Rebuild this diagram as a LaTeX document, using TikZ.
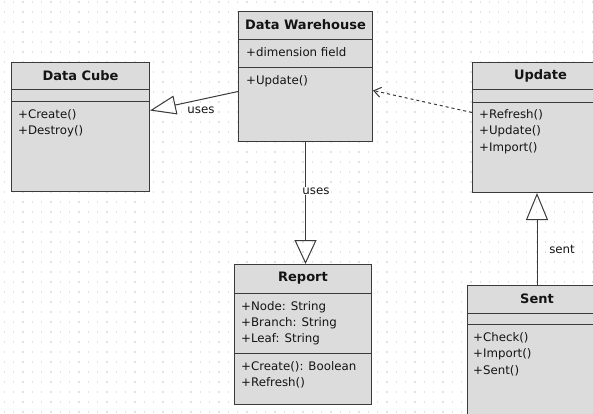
\documentclass[tikz,border=0pt]{standalone}
\usepackage{fontspec}
\setmainfont{DejaVu Sans}
\usetikzlibrary{arrows.meta,calc}
\definecolor{boxfill}{HTML}{DCDCDC}
\definecolor{boxline}{HTML}{3A3A3A}
\definecolor{ink}{HTML}{141414}
\definecolor{dotgrid}{HTML}{E2E2E2}

\begin{document}
\begin{tikzpicture}[x=1pt,y=-1pt,
  classbox/.style={draw=boxline, fill=boxfill, line width=1pt, inner sep=0pt, anchor=north west},
  sepline/.style={draw=boxline, line width=1pt},
  classtitle/.style={font=\fontsize{13}{14}\selectfont\bfseries, text=ink, inner sep=0pt},
  member/.style={font=\fontsize{11.8}{14}\selectfont, text=ink, inner sep=0pt, anchor=west,
    text height=8.5pt, text depth=2.5pt},
  connlabel/.style={font=\fontsize{11.8}{14}\selectfont, text=ink, inner sep=1pt},
  assoc/.style={draw=boxline, line width=1pt},
  depend/.style={draw=boxline, line width=1pt, dash pattern=on 3pt off 3pt},
]
\useasboundingbox (0,0) rectangle (593,413);
\clip (0,0) rectangle (593,413);
\fill[white] (0,0) rectangle (593,413);

% faint dot grid of the drawing canvas
\foreach \r in {0,...,41}
  \draw[dotgrid, line width=1.3pt, dash pattern=on 1.3pt off 8.03pt, dash phase=-3.7pt]
    (0,\r*10+2) -- (593,\r*10+2);

% ---- Data Cube ----
\node[classbox, minimum width=138pt, minimum height=129pt] (dc) at (11,62) {};
\draw[sepline] ($(dc.north west)+(0,27)$) -- ($(dc.north east)+(0,27)$);
\draw[sepline] ($(dc.north west)+(0,39)$) -- ($(dc.north east)+(0,39)$);
\node[classtitle] (dcT) at ($(dc.north)+(0,14)$) {Data Cube};
\node[member] (dcM1) at ($(dc.north west)+(7,53)$) {+Create()};
\node[member] (dcM2) at ($(dc.north west)+(7,69)$) {+Destroy()};

% ---- Data Warehouse ----
\node[classbox, minimum width=134pt, minimum height=130pt] (dw) at (238,11) {};
\draw[sepline] ($(dw.north west)+(0,28)$) -- ($(dw.north east)+(0,28)$);
\draw[sepline] ($(dw.north west)+(0,56)$) -- ($(dw.north east)+(0,56)$);
\node[classtitle] (dwT) at ($(dw.north)+(0,14)$) {Data Warehouse};
\node[member] (dwA1) at ($(dw.north west)+(8,42)$) {+dimension field};
\node[member] (dwM1) at ($(dw.north west)+(8,70)$) {+Update()};

% ---- Update ----
\node[classbox, minimum width=136pt, minimum height=130pt] (up) at (472,62) {};
\draw[sepline] ($(up.north west)+(0,27)$) -- ($(up.north east)+(0,27)$);
\draw[sepline] ($(up.north west)+(0,40)$) -- ($(up.north east)+(0,40)$);
\node[classtitle] (upT) at ($(up.north)+(0,14)$) {Update};
\node[member] (upM1) at ($(up.north west)+(7,53)$) {+Refresh()};
\node[member] (upM2) at ($(up.north west)+(7,69)$) {+Update()};
\node[member] (upM3) at ($(up.north west)+(7,86)$) {+Import()};

% ---- Report ----
\node[classbox, minimum width=137pt, minimum height=140pt] (rp) at (234,264) {};
\draw[sepline] ($(rp.north west)+(0,29)$) -- ($(rp.north east)+(0,29)$);
\draw[sepline] ($(rp.north west)+(0,89)$) -- ($(rp.north east)+(0,89)$);
\node[classtitle] (rpT) at ($(rp.north)+(0,14)$) {Report};
\node[member] (rpA1) at ($(rp.north west)+(7,43)$) {+Node: String};
\node[member] (rpA2) at ($(rp.north west)+(7,59)$) {+Branch: String};
\node[member] (rpA3) at ($(rp.north west)+(7,75)$) {+Leaf: String};
\node[member] (rpM1) at ($(rp.north west)+(7,103)$) {+Create(): Boolean};
\node[member] (rpM2) at ($(rp.north west)+(7,119)$) {+Refresh()};

% ---- Sent ----
\node[classbox, minimum width=139pt, minimum height=140pt] (st) at (467,285) {};
\draw[sepline] ($(st.north west)+(0,28)$) -- ($(st.north east)+(0,28)$);
\draw[sepline] ($(st.north west)+(0,39)$) -- ($(st.north east)+(0,39)$);
\node[classtitle] (stT) at ($(st.north)+(0,14)$) {Sent};
\node[member] (stM1) at ($(st.north west)+(6,53)$) {+Check()};
\node[member] (stM2) at ($(st.north west)+(6,69)$) {+Import()};
\node[member] (stM3) at ($(st.north west)+(6,86)$) {+Sent()};

% ---- connectors ----
\draw[assoc, -{Triangle[open, length=26pt, width=19pt]}]
  ([yshift=-15pt]dw.west) -- ([yshift=16.5pt]dc.east);
\node[connlabel] (lblDc) at (201,110) {uses};

\draw[assoc, -{Triangle[open, length=24pt, width=22pt]}]
  (dw.south) -- (dw.south |- rp.north);
\node[connlabel, fill=white] (lblRp) at (316,191) {uses};

\draw[assoc, -{Triangle[open, length=27pt, width=22pt]}]
  (st.north) -- (st.north |- up.south);
\node[connlabel] (lblSt) at (562,249) {sent};

\draw[depend, -{Straight Barb[length=7pt, width=10pt]}]
  ([yshift=15pt]up.west) -- ([yshift=-14pt]dw.east);
\end{tikzpicture}
\end{document}
